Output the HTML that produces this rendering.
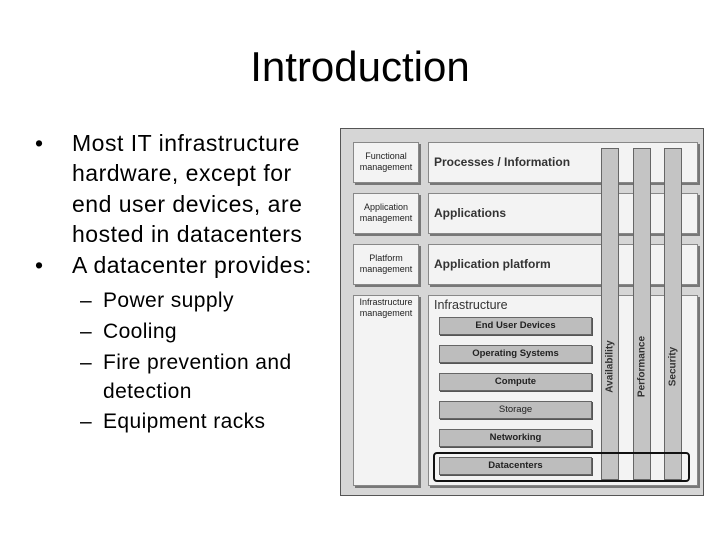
<!DOCTYPE html>
<html><head><meta charset="utf-8"><style>
body{margin:0;width:720px;height:540px;background:#fff;position:relative;overflow:hidden;font-family:"Liberation Sans",sans-serif;color:#000}
.a{position:absolute;white-space:nowrap}
.t{font-size:23px;line-height:26px;letter-spacing:0.5px}
.s{font-size:21px;line-height:24px;letter-spacing:0.4px}
.bx{position:absolute;background:#f3f3f3;border:1px solid #888;box-shadow:2px 2px 0 #777;box-sizing:border-box}
.lb{font-size:9px;text-align:center;line-height:11px;padding-top:8px;color:#222}
.rb{font-size:12px;font-weight:bold;color:#333;padding-left:5px}
.bar{position:absolute;left:439px;width:153px;height:18px;background:#bdbdbd;border:1px solid #666;box-shadow:1px 1px 0 #555;box-sizing:border-box;font-size:9.5px;font-weight:bold;text-align:center;line-height:16px;color:#222}
.p{position:absolute;top:148px;width:18px;height:332px;background:#c4c4c4;border:1px solid #666;box-sizing:border-box}
.pv{position:absolute;font-size:10px;font-weight:bold;color:#333;transform:rotate(-90deg);transform-origin:center;white-space:nowrap;width:80px;text-align:center}
</style></head><body>
<div class="a" style="left:0;width:720px;text-align:center;top:42px;font-size:42px;line-height:50px">Introduction</div>
<div class="a t" style="left:35px;top:130px">•</div>
<div class="a t" style="left:72px;top:130px">Most IT infrastructure</div>
<div class="a t" style="left:72px;top:160px">hardware, except for</div>
<div class="a t" style="left:72px;top:191px">end user devices, are</div>
<div class="a t" style="left:72px;top:221px">hosted in datacenters</div>
<div class="a t" style="left:35px;top:252px">•</div>
<div class="a t" style="left:72px;top:252px">A datacenter provides:</div>
<div class="a s" style="left:80px;top:289px">–</div><div class="a s" style="left:103px;top:289px">Power supply</div>
<div class="a s" style="left:80px;top:320px">–</div><div class="a s" style="left:103px;top:320px">Cooling</div>
<div class="a s" style="left:80px;top:351px">–</div><div class="a s" style="left:103px;top:351px">Fire prevention and</div>
<div class="a s" style="left:103px;top:380px">detection</div>
<div class="a s" style="left:80px;top:410px">–</div><div class="a s" style="left:103px;top:410px">Equipment racks</div>

<div style="position:absolute;left:340px;top:128px;width:364px;height:368px;background:#d6d6d6;border:1px solid #555;box-sizing:border-box"></div>
<div class="bx lb" style="left:353px;top:142px;width:66px;height:41px">Functional<br>management</div>
<div class="bx lb" style="left:353px;top:193px;width:66px;height:41px">Application<br>management</div>
<div class="bx lb" style="left:353px;top:244px;width:66px;height:41px">Platform<br>management</div>
<div class="bx lb" style="left:353px;top:295px;width:66px;height:191px;padding-top:1px">Infrastructure<br>management</div>
<div class="bx rb" style="left:428px;top:142px;width:270px;height:41px;line-height:39px">Processes / Information</div>
<div class="bx rb" style="left:428px;top:193px;width:270px;height:41px;line-height:39px">Applications</div>
<div class="bx rb" style="left:428px;top:244px;width:270px;height:41px;line-height:39px">Application platform</div>
<div class="bx rb" style="left:428px;top:295px;width:270px;height:191px;font-weight:normal;font-size:12.5px;line-height:18px">Infrastructure</div>
<div class="bar" style="top:317px">End User Devices</div>
<div class="bar" style="top:345px">Operating Systems</div>
<div class="bar" style="top:373px">Compute</div>
<div class="bar" style="top:401px;font-weight:normal">Storage</div>
<div class="bar" style="top:429px">Networking</div>
<div class="bar" style="top:457px">Datacenters</div>
<div class="p" style="left:601px"></div>
<div class="p" style="left:633px"></div>
<div class="p" style="left:664px"></div>
<div class="pv" style="left:570px;top:361px">Availability</div>
<div class="pv" style="left:602px;top:361px">Performance</div>
<div class="pv" style="left:633px;top:361px">Security</div>
<div style="position:absolute;left:433px;top:452px;width:257px;height:30px;border:2px solid #111;border-radius:4px;box-sizing:border-box"></div>
</body></html>
